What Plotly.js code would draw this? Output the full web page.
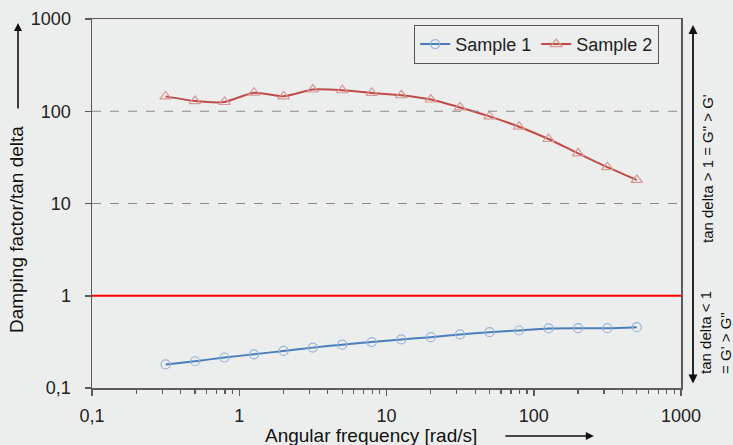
<!DOCTYPE html>
<html>
<head>
<meta charset="utf-8">
<script src="https://cdn.plot.ly/plotly-3.0.1.min.js"></script>
<style>html,body{margin:0;padding:0;background:#eceeed;}#chart{width:733px;height:445px;}</style>
</head>
<body>
<div id="chart"></div>
<script>
// Angular frequency [rad/s]
const freq = [0.316, 0.501, 0.794, 1.26, 2.0, 3.16, 5.01, 7.94, 12.6, 20.0, 31.6, 50.1, 79.4, 126, 200, 316, 501];
// Damping factor (tan delta)
const sample1 = [0.180, 0.195, 0.214, 0.232, 0.252, 0.274, 0.295, 0.315, 0.336, 0.356, 0.381, 0.403, 0.420, 0.442, 0.445, 0.445, 0.456];
const sample2 = [145, 129, 126, 159, 145, 172, 169, 158, 149, 134, 110, 88, 68, 50, 35, 24.8, 18];
const seriesNames = ["Sample 1", "Sample 2"];
const xTickVals = [0.1, 1, 10, 100, 1000];
const xTickText = ["0,1", "1", "10", "100", "1000"];
const yTickVals = [0.1, 1, 10, 100, 1000];
const yTickText = ["0,1", "1", "10", "100", "1000"];
const gridVals = [10, 100];
const refLine = 1;

const FONT = "Liberation Sans, Arial, sans-serif";
const AX = "#5a5a5a";

const traces = [
  {
    x: freq, y: sample1, name: seriesNames[0], type: "scatter", mode: "lines+markers",
    line: {color: "#4a7ebb", width: 2, shape: "spline", smoothing: 0.6},
    marker: {symbol: "circle-open", size: 9, color: "#95b3d7", line: {width: 1.2, color: "#95b3d7"}}
  },
  {
    x: freq, y: sample2, name: seriesNames[1], type: "scatter", mode: "lines+markers",
    line: {color: "#be4b48", width: 2, shape: "spline", smoothing: 0.6},
    marker: {symbol: "triangle-up-open", size: 10, color: "#d99694", line: {width: 1.2, color: "#d99694"}}
  }
];

const shapes = gridVals.map(v => ({
  type: "line", xref: "paper", x0: 0, x1: 1, yref: "y", y0: v, y1: v,
  line: {color: "#8a8a8a", width: 1, dash: "dash"}
}));
shapes.push({type: "line", xref: "paper", x0: 0, x1: 1, yref: "y", y0: refLine, y1: refLine, line: {color: "#ff0000", width: 2.2}});

const layout = {
  width: 733, height: 445,
  margin: {l: 92, r: 52, t: 19, b: 57},
  paper_bgcolor: "#eceeed", plot_bgcolor: "#eceeed",
  font: {family: FONT, size: 18, color: "#222"},
  showlegend: true,
  legend: {
    x: 0.547, y: 0.984, xanchor: "left", yanchor: "top", orientation: "h",
    bgcolor: "#eceeed", bordercolor: "#555", borderwidth: 1,
    font: {family: FONT, size: 18, color: "#222"}
  },
  xaxis: {
    type: "log", range: [-1, 3],
    tickvals: xTickVals, ticktext: xTickText,
    ticks: "outside", ticklen: 6, tickcolor: AX, tickwidth: 1.5,
    ticklabelstandoff: 5,
    showline: true, linecolor: AX, linewidth: 1.5, mirror: true,
    showgrid: false, zeroline: false,
    tickfont: {family: FONT, size: 18, color: "#222"},
    minor: {ticks: "outside", ticklen: 4, tickcolor: AX, tickwidth: 1.2, dtick: "D1", showgrid: false}
  },
  yaxis: {
    type: "log", range: [-1, 3],
    tickvals: yTickVals, ticktext: yTickText,
    ticks: "outside", ticklen: 6, tickcolor: AX, tickwidth: 1.5,
    ticklabelstandoff: 10,
    showline: true, linecolor: AX, linewidth: 1.5, mirror: true,
    showgrid: false, zeroline: false,
    tickfont: {family: FONT, size: 18, color: "#222"}
  },
  shapes: shapes,
  annotations: [
    {xref: "paper", yref: "paper", x: -0.129, y: 0.428, xanchor: "center", yanchor: "middle", text: "Damping factor/tan delta", textangle: -90, showarrow: false, font: {family: FONT, size: 19, color: "#111"}},
    {xref: "paper", yref: "paper", x: -0.1256, y: 0.989, text: "", showarrow: true, ax: 0, ay: 87, arrowhead: 2, arrowsize: 1, arrowwidth: 1.6, arrowcolor: "#111"},
    {xref: "paper", yref: "paper", x: 0.4737, y: -0.130, xanchor: "center", yanchor: "middle", text: "Angular frequency [rad/s]", showarrow: false, font: {family: FONT, size: 19, color: "#111"}},
    {xref: "paper", yref: "paper", x: 0.852, y: -0.130, text: "", showarrow: true, ax: -90, ay: 0, arrowhead: 2, arrowsize: 1, arrowwidth: 1.6, arrowcolor: "#111"},
    {xref: "paper", yref: "paper", x: 1.0204, y: 0.984, text: "", showarrow: true, ax: 0, ay: 360, arrowhead: 2, startarrowhead: 2, arrowside: "end+start", arrowsize: 1, arrowwidth: 1.8, arrowcolor: "#111"},
    {xref: "paper", yref: "paper", x: 1.044, y: 0.596, xanchor: "center", yanchor: "middle", text: "tan delta > 1 = G\" > G'", textangle: -90, showarrow: false, font: {family: FONT, size: 15, color: "#111"}},
    {xref: "paper", yref: "paper", x: 1.0594, y: 0.152, xanchor: "center", yanchor: "middle", text: "tan delta < 1<br>= G' > G\"", textangle: -90, align: "left", showarrow: false, font: {family: FONT, size: 15, color: "#111"}}
  ]
};

Plotly.newPlot("chart", traces, layout, {displayModeBar: false, staticPlot: true});
</script>
</body>
</html>
